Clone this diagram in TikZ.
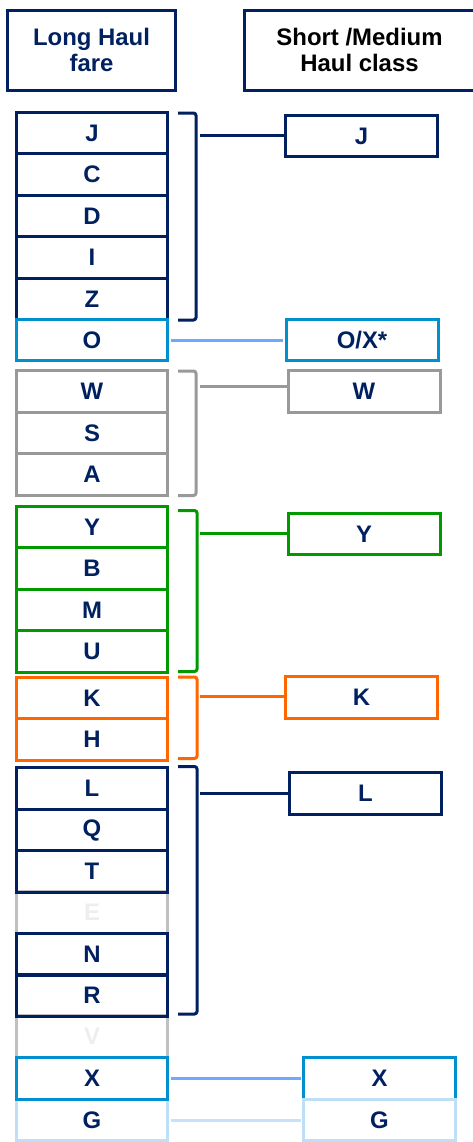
\documentclass[tikz,border=0pt]{standalone}
\usepackage{fontspec}
\setmainfont{Liberation Sans}
\definecolor{navy}{HTML}{002060}
\definecolor{sky}{HTML}{0090D0}
\definecolor{linkblue}{HTML}{6FA8FF}
\definecolor{grey}{HTML}{999999}
\definecolor{green}{HTML}{009900}
\definecolor{orange}{HTML}{FF6600}
\definecolor{pale}{HTML}{C0C0C0}
\definecolor{paletext}{HTML}{EEEEEE}
\definecolor{iceblue}{HTML}{BDE0F8}
\definecolor{icelink}{HTML}{C6E0FF}
\tikzset{
  fare/.style={draw=#1, line width=3bp, minimum width=151bp, minimum height=41.5bp,
    inner sep=0pt, text=navy, font=\bfseries\fontsize{24}{27}\selectfont},
  title/.style={fare=navy, minimum width=#1, minimum height=80bp, align=center}
}
\begin{document}
\begin{tikzpicture}[x=1bp,y=-1bp,line width=3bp]
\useasboundingbox (0,0) rectangle (473,1142);

\def\OX{O/X*}
% Titres
  \node[title=167bp] (lhead) at (91.5,50) {Long Haul\\fare};
  \node[title=231bp, text=black] (shead) at (359.5,50) {Short /Medium\\Haul class};

% Cases pales (dessous)
  \foreach \n/\y/\c/\tc in {E/912.5/pale/paletext, V/1036.5/pale/paletext, G/1120/iceblue/navy}
  \node[fare=\c, text=\tc] (\n) at (92,\y) {\n};

% Colonne long-courrier
  \foreach \n/\y/\c in {J/133/navy, C/174.5/navy, D/216/navy, I/257.5/navy, Z/299/navy, O/340/sky,
      W/391.5/grey, S/433/grey, A/474.5/grey, Y/527/green, B/568.5/green, M/610/green, U/651.5/green,
      K/698/orange, H/739.5/orange, L/788.5/navy, Q/830/navy, T/871.5/navy, N/954.5/navy, R/995.5/navy,
      X/1078.5/sky}
  \node[fare=\c] (\n) at (92,\y) {\n};

% Colonne court/moyen-courrier
  \foreach \n/\t/\x/\y/\c in {sJ/J/361.5/136/navy, sO/\OX/362/340/sky, sW/W/364/391.5/grey,
      sY/Y/364/534/green, sK/K/361.5/697.5/orange, sL/L/365.5/793.5/navy,
      sX/X/379.5/1078.5/sky, sG/G/379.5/1120/iceblue}
  \node[fare=\c, minimum width=152bp] (\n) at (\x,\y) {\t};

% Accolades
  \foreach \c/\top/\bot/\r in {navy/113/320/196, grey/371/495.5/196, green/510.5/671.5/197,
      orange/677/758.5/197, navy/766.5/1014/197}
  \draw[\c, rounded corners=2.5bp] (178,\top) -| (\r,\bot) -- (178,\bot);

% Liens
  \foreach \g/\c/\y in {J/navy/135.5, W/grey/386, Y/green/533, K/orange/696.5, L/navy/793}
  {\coordinate (c\g) at (200,\y);
   \draw[\c] (c\g) -- (c\g -| s\g.west);}
  \draw[linkblue, shorten <=1.5bp, shorten >=1.5bp] (O) -- (sO);
  \draw[linkblue, shorten <=1.5bp, shorten >=1.5bp] (X) -- (sX);
  \draw[icelink, shorten <=1.5bp, shorten >=1.5bp] (G) -- (sG);
\end{tikzpicture}
\end{document}
